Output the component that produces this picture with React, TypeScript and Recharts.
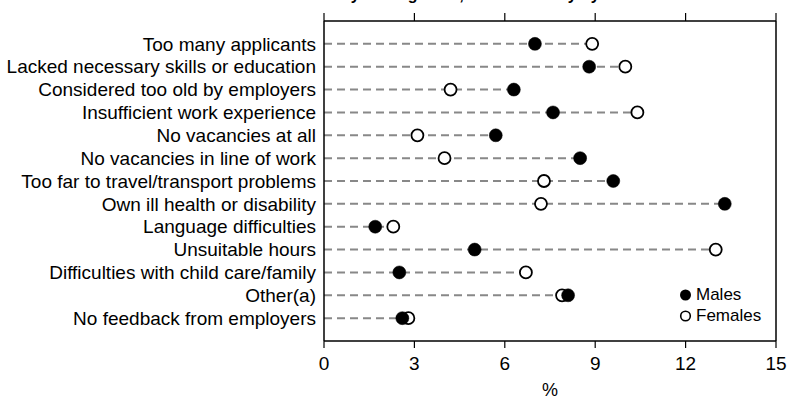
import React from 'react';
import {
  ScatterChart,
  Scatter,
  XAxis,
  YAxis,
  ReferenceLine,
} from 'recharts';

const categories = [
  'Too many applicants',
  'Lacked necessary skills or education',
  'Considered too old by employers',
  'Insufficient work experience',
  'No vacancies at all',
  'No vacancies in line of work',
  'Too far to travel/transport problems',
  'Own ill health or disability',
  'Language difficulties',
  'Unsuitable hours',
  'Difficulties with child care/family',
  'Other(a)',
  'No feedback from employers',
];

const malesValues = [7.0, 8.8, 6.3, 7.6, 5.7, 8.5, 9.6, 13.3, 1.7, 5.0, 2.5, 8.1, 2.6];
const femalesValues = [8.9, 10.0, 4.2, 10.4, 3.1, 4.0, 7.3, 7.2, 2.3, 13.0, 6.7, 7.9, 2.8];

const xTicks = [0, 3, 6, 9, 12, 15];
const seriesNames = ['Males', 'Females'];
const titleText = 'Persons who had difficulty finding work, main difficulty by sex';

const malesData = categories.map((c, i) => ({ x: malesValues[i], y: i, name: c }));
const femalesData = categories.map((c, i) => ({ x: femalesValues[i], y: i, name: c }));
const yTicks = categories.map((_, i) => i);

const FONT = '"Liberation Sans", Arial, sans-serif';

const MaleDot = (props: any) => (
  <circle cx={props.cx} cy={props.cy} r={6.5} fill="#000" stroke="#000" strokeWidth={0.5} />
);
const FemaleDot = (props: any) => (
  <circle cx={props.cx} cy={props.cy} r={6} fill="#fff" stroke="#000" strokeWidth={1.8} />
);
const NoDot = () => <g />;

const LegendBox = () => (
  <div
    style={{
      position: 'absolute',
      left: 678,
      top: 284,
      fontFamily: FONT,
      fontSize: 17,
      color: '#000',
      lineHeight: '21px',
    }}
  >
    {seriesNames.map((n, i) => (
      <div key={n} style={{ display: 'flex', alignItems: 'center', height: 21 }}>
        <svg width={16} height={16} style={{ marginRight: 2 }}>
          {i === 0 ? (
            <circle cx={7.5} cy={8} r={5.5} fill="#000" />
          ) : (
            <circle cx={7.5} cy={8} r={4.8} fill="#fff" stroke="#000" strokeWidth={1.6} />
          )}
        </svg>
        <span>{n}</span>
      </div>
    ))}
  </div>
);

export default function App() {
  return (
    <div style={{ position: 'absolute', left: 0, top: 0, width: 787, height: 400, background: '#fff', overflow: 'hidden' }}>
      <div
        style={{
          position: 'absolute',
          left: 0,
          width: 787,
          top: -14,
          textAlign: 'center',
          fontFamily: FONT,
          fontWeight: 'bold',
          fontSize: 16,
          lineHeight: '18px',
          color: '#000',
        }}
      >
        {titleText}
      </div>
      <ScatterChart width={787} height={400} margin={{ top: 13, right: 11, bottom: 0, left: 0 }}>
        <XAxis
          xAxisId="top"
          orientation="top"
          type="number"
          dataKey="x"
          domain={[0, 15]}
          ticks={xTicks}
          height={8}
          tickSize={8}
          tick={NoDot}
          axisLine={{ stroke: '#000', strokeWidth: 1.5 }}
          tickLine={{ stroke: '#000', strokeWidth: 1.2 }}
        />
        <XAxis
          type="number"
          dataKey="x"
          domain={[0, 15]}
          ticks={xTicks}
          height={59}
          tickSize={7}
          tickMargin={9}
          interval={0}
          axisLine={{ stroke: '#000', strokeWidth: 1.5 }}
          tickLine={{ stroke: '#000', strokeWidth: 1.2 }}
          tick={{ fill: '#000', fontSize: 19, fontFamily: FONT }}
          label={{ value: '%', position: 'insideBottom', offset: 4, fill: '#000', fontSize: 18, fontFamily: FONT }}
        />
        <YAxis
          type="number"
          dataKey="y"
          domain={[-1, 13]}
          reversed
          ticks={yTicks}
          interval={0}
          width={324}
          tickLine={false}
          tickSize={6}
          tickMargin={2}
          tickFormatter={(v: number) => categories[v] ?? ''}
          axisLine={{ stroke: '#000', strokeWidth: 1.5 }}
          tick={{ fill: '#000', fontSize: 19, fontFamily: FONT }}
        />
        {categories.map((c, i) => (
          <ReferenceLine
            key={c}
            segment={[
              { x: 0, y: i },
              { x: Math.max(malesValues[i], femalesValues[i]), y: i },
            ]}
            stroke="#888"
            strokeWidth={2}
            strokeDasharray="8 5"
          />
        ))}
        <ReferenceLine x={15} stroke="#000" strokeWidth={1.5} />
        <Scatter xAxisId="top" data={femalesData} shape={NoDot} isAnimationActive={false} legendType="none" />
        <Scatter name="Females" data={femalesData} shape={FemaleDot} isAnimationActive={false} />
        <Scatter name="Males" data={malesData} shape={MaleDot} isAnimationActive={false} />
      </ScatterChart>
      <LegendBox />
    </div>
  );
}
